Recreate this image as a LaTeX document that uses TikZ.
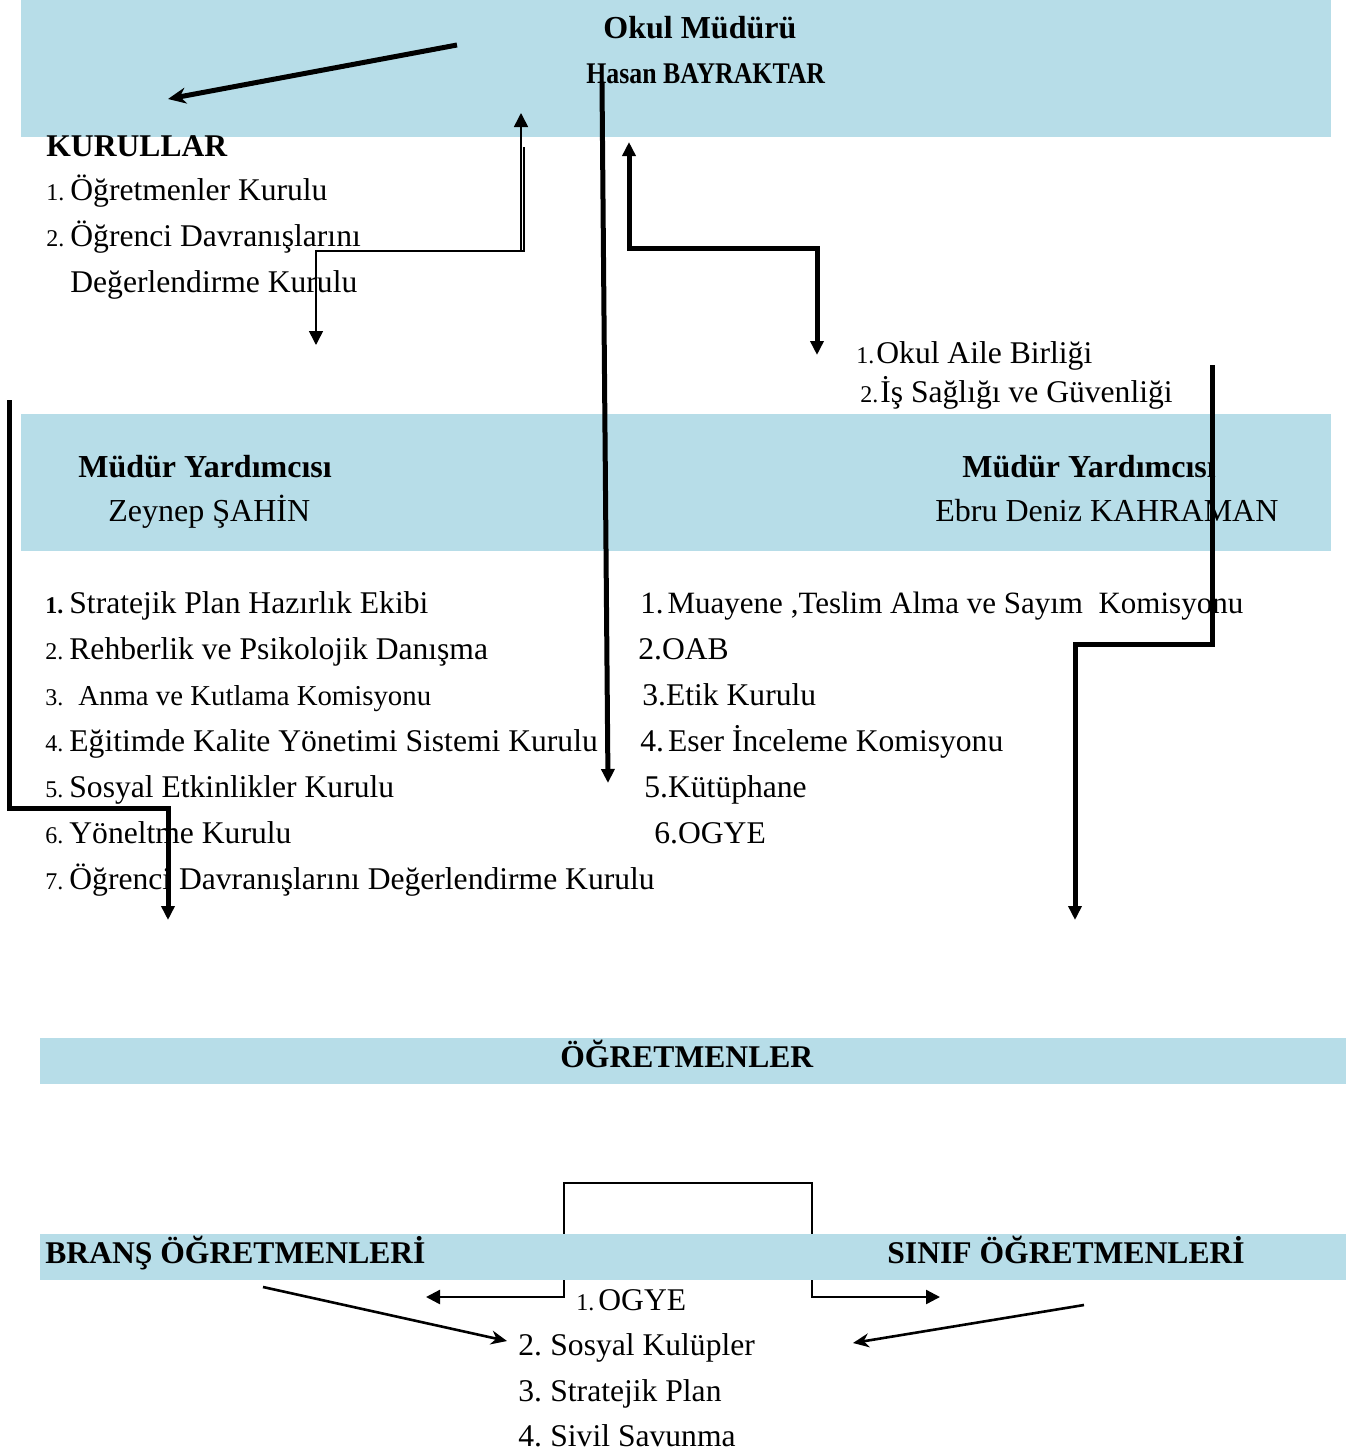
\documentclass[tikz,border=0pt]{standalone}
\usepackage{fontspec}
\setmainfont{Liberation Serif}
\usetikzlibrary{arrows.meta,positioning}
\definecolor{bandblue}{RGB}{183,221,232}
\newcommand{\nr}[1]{{\fontsize{12}{14}\selectfont #1}}
\newcommand{\lnr}[1]{\makebox[12pt][l]{\nr{#1}}}

\begin{document}
\begin{tikzpicture}[x=0.5pt,y=-0.5pt,
  band/.style={fill=bandblue},
  txt/.style={anchor=base west,inner sep=0pt,font=\fontsize{15.8}{19}\selectfont},
  headtxt/.style={txt,font=\bfseries\fontsize{15.8}{19}\selectfont},
  fat/.style={line width=2.5pt,-{Triangle[length=7pt,width=6.5pt]}},
  slim/.style={line width=0.8pt,-{Triangle[length=7pt,width=7pt]}},
  medline/.style={line width=1.3pt,-{Stealth[length=8pt,width=7pt]}}]
  \useasboundingbox (0,0) rectangle (1346,1452);

  \fill[band] (21,0) rectangle (1331,137);          % Okul Muduru band
  \fill[band] (21,414) rectangle (1331,551);        % Mudur yardimcisi band
  \fill[band] (40,1038) rectangle (1346,1084);      % Ogretmenler band

  % bracket behind the bottom band
  \coordinate (brl) at (426,1297);
  \coordinate (brr) at (940,1297);
  \draw[line width=1.2pt,{Triangle[length=7pt,width=7pt]}-{Triangle[length=7pt,width=7pt]}]
    (brl) -- (564,1297) -- (564,1183) -- (812,1183) -- (812,1297) -- (brr);
  \fill[band] (40,1234) rectangle (1346,1280);      % Brans / Sinif band

  % Okul Muduru
  \node[headtxt,font=\bfseries\fontsize{16}{19}\selectfont] (mudur) at (603,38) {Okul Müdürü};
  \node[headtxt,font=\bfseries\fontsize{15}{18}\selectfont] (hasan) at (586,83) {\scalebox{0.86}[1]{Hasan BAYRAKTAR}};

  % Kurullar
  \node[headtxt] (kurullar) at (46,156) {KURULLAR};
  \node[txt] (kur1) at (46,200) {\lnr{1.}Öğretmenler Kurulu};
  \node[txt] (kur2) at (46,246) {\lnr{2.}Öğrenci Davranışlarını};
  \node[txt] (kur3) at (70,292) {Değerlendirme Kurulu};

  % Okul Aile Birligi
  \node[txt] (oab1) at (856,363) {\nr{1.}\hspace{1pt}Okul Aile Birliği};
  \node[txt] (oab2) at (860,402) {\nr{2.}\hspace{1pt}İş Sağlığı ve Güvenliği};

  % Mudur yardimcilari
  \node[headtxt,font=\bfseries\fontsize{16}{19}\selectfont] (my1) at (78,477) {Müdür Yardımcısı};
  \node[txt,font=\fontsize{16}{19}\selectfont] (zeynep) at (108,521) {Zeynep ŞAHİN};
  \node[headtxt,font=\bfseries\fontsize{16}{19}\selectfont] (my2) at (962,477) {Müdür Yardımcısı};
  \node[txt,font=\fontsize{16}{19}\selectfont] (ebru) at (935,521) {Ebru Deniz KAHRAMAN};

  % Zeynep SAHIN list
  \node[txt] (z1) at (45,613) {\lnr{\textbf{1.}}Stratejik Plan Hazırlık Ekibi};
  \node[txt] (z2) at (45,659) {\lnr{2.}Rehberlik ve Psikolojik Danışma};
  \node[txt] (z3) at (45,705) {\nr{3.}\hspace{7.5pt}{\fontsize{14.4}{17}\selectfont Anma ve Kutlama Komisyonu}};
  \node[txt] (z4) at (45,751) {\lnr{4.}Eğitimde Kalite Yönetimi Sistemi Kurulu};
  \node[txt] (z5) at (45,797) {\lnr{5.}Sosyal Etkinlikler Kurulu};
  \node[txt] (z6) at (45,843) {\lnr{6.}Yöneltme Kurulu};
  \node[txt] (z7) at (45,889) {\lnr{7.}Öğrenci Davranışlarını Değerlendirme Kurulu};

  % Ebru Deniz KAHRAMAN list
  \node[txt,font=\fontsize{15.5}{19}\selectfont] (e1) at (640,613) {1.\hspace{2pt}Muayene ,Teslim Alma ve Sayım\ \ Komisyonu};
  \node[txt] (e2) at (638,659) {2.OAB};
  \node[txt] (e3) at (642,705) {3.Etik Kurulu};
  \node[txt] (e4) at (640,751) {4.\hspace{2pt}Eser İnceleme Komisyonu};
  \node[txt] (e5) at (644,797) {5.Kütüphane};
  \node[txt] (e6) at (654,843) {6.OGYE};

  % Ogretmenler
  \node[headtxt] (ogr) at (560,1067) {ÖĞRETMENLER};
  \node[headtxt] (brans) at (45,1263) {BRANŞ ÖĞRETMENLERİ};
  \node[headtxt] (sinif) at (887,1263) {SINIF ÖĞRETMENLERİ};
  \node[txt] (o1) at (576,1310) {\nr{1.}\hspace{2pt}OGYE};
  \node[txt] (o2) at (518,1355) {\makebox[16pt][l]{2.}Sosyal Kulüpler};
  \node[txt] (o3) at (518,1401) {\makebox[16pt][l]{3.}Stratejik Plan};
  \node[txt] (o4) at (518,1446) {\makebox[16pt][l]{4.}Sivil Savunma};

  % arrow end points
  \coordinate (a1s) at (457,45);    \coordinate (a1e) at (168,99);
  \coordinate (a2t) at (521,113);   \coordinate (a2e) at (316,345);
  \coordinate (a3s) at (602,83);    \coordinate (a3e) at (608,783);
  \coordinate (a4t) at (629,142);   \coordinate (a4e) at (817,355);
  \coordinate (a5s) at (1212,365);  \coordinate (a5e) at (1075,920);
  \coordinate (a6s) at (9,400);     \coordinate (a6e) at (168,920);
  \coordinate (a8s) at (263,1287);  \coordinate (a8e) at (507,1341);
  \coordinate (a9s) at (1084,1305); \coordinate (a9e) at (853,1343);

  \draw[line width=2.5pt,-{Stealth[length=9pt,width=8pt]}] (a1s) -- (a1e);   % Muduru to kurullar
  \draw[slim] (521,251) -- (a2t);                                           % up to Muduru
  \draw[slim] (524,147) -- (524,251) -- (316,251) -- (a2e);                 % down to kurullar
  \draw[fat] (a3s) -- (a3e);                                                % long arrow down
  \draw[fat,{Triangle[length=7pt,width=6.5pt]}-{Triangle[length=7pt,width=6.5pt]}]
    (a4t) -- (629,248) -- (817,248) -- (a4e);                               % to Okul Aile Birligi
  \draw[fat] (a5s) -- (1212,644) -- (1075,644) -- (a5e);                    % right branch
  \draw[fat] (a6s) -- (9,808) -- (168,808) -- (a6e);                        % left branch
  \draw[medline] (a8s) -- (a8e);                                            % brans to list
  \draw[medline] (a9s) -- (a9e);                                            % sinif to list
\end{tikzpicture}
\end{document}
